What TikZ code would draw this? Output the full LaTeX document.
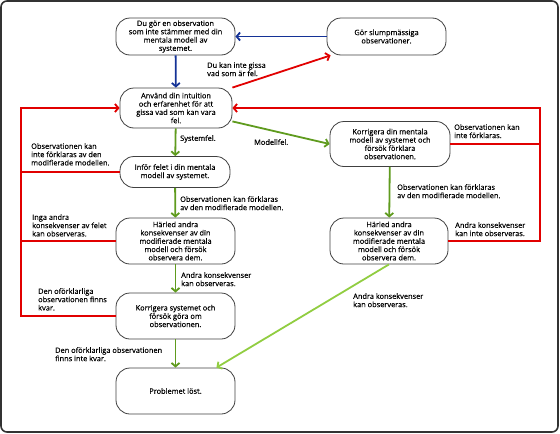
\documentclass[tikz,border=0pt]{standalone}
\usepackage{fontspec}
\setmainfont{Open Sans}[FakeBold=0.35]
\usetikzlibrary{arrows.meta}
\definecolor{myblue}{RGB}{20,50,150}
\definecolor{myred}{RGB}{225,0,0}
\definecolor{mygreen}{RGB}{95,155,30}
\definecolor{mylgreen}{RGB}{145,205,65}
\definecolor{frame}{RGB}{50,50,50}
\begin{document}
\begin{tikzpicture}[x=1pt,y=-1pt,
  txt/.style={font=\fontsize{7.4}{8.3}\selectfont},
  box/.style={txt, draw=black!75, line width=0.8pt, rounded corners=14pt, fill=white, align=center, inner sep=1pt},
  lbl/.style={txt, align=left, anchor=north west, inner sep=0pt},
  conn/.style={line width=1.8pt, -{Straight Barb[length=3.5pt,width=8pt]}},
  blueline/.style={conn, draw=myblue},
  redline/.style={conn, draw=myred},
  greenline/.style={conn, draw=mygreen},
  lgreenline/.style={conn, draw=mylgreen},
  redseg/.style={line width=1.8pt, draw=myred}
]
\useasboundingbox (0,0) rectangle (560,434);
\draw[frame, line width=1.6pt, rounded corners=6pt] (1,1) rectangle (558,432);

\node[box, minimum width=119pt, minimum height=37pt] (A) at (175.5,36.5) {Du gör en observation\\som inte stämmer med din\\mentala modell av\\systemet.};
\node[box, minimum width=119pt, minimum height=37pt] (B) at (386.5,36.5) {Gör slumpmässiga\\observationer.};
\node[box, minimum width=112pt, minimum height=40pt] (C) at (176,108) {Använd din intuition\\och erfarenhet för att\\gissa vad som kan vara\\fel.};
\node[box, minimum width=120pt, minimum height=45pt] (D) at (390,144) {Korrigera din mentala\\modell av systemet och\\försök förklara\\observationen.};
\node[box, minimum width=110pt, minimum height=31pt] (E) at (175,172) {Inför felet i din mentala\\modell av systemet.};
\node[box, minimum width=119pt, minimum height=46pt] (F) at (175.5,241) {Härled andra\\konsekvenser av din\\modifierade mentala\\modell och försök\\observera dem.};
\node[box, minimum width=118pt, minimum height=46pt] (G) at (389,241) {Härled andra\\konsekvenser av din\\modifierade mentala\\modell och försök\\observera dem.};
\node[box, minimum width=119pt, minimum height=46pt] (H) at (175.5,316) {Korrigera systemet och\\försök göra om\\observationen.};
\node[box, minimum width=119pt, minimum height=46pt] (I) at (175.5,391) {Problemet löst.};

\coordinate (leftx) at (21,0);
\coordinate (rightx) at (540,0);

% blue
\draw[blueline] (B) -- (A);
\draw[blueline] (A) -- (C);
% red to B
\draw[redline] (C.north east) -- ([xshift=4pt]B.south west);
% green
\draw[greenline] ([yshift=7pt]C.south east) -- (D.west);
\draw[greenline] (C) -- (E);
\draw[greenline] (E) -- (F);
\draw[greenline] (F) -- (H);
\draw[greenline] (H) -- (I);
\draw[greenline] (D) -- (G);
\draw[lgreenline] (G.south) -- ([xshift=-19pt]I.north east);
% red left loop
\draw[redseg] (E.west) -- (E.west -| leftx);
\draw[redseg] (F.west) -- (F.west -| leftx);
\draw[redline] (H.west) -- (H.west -| leftx) |- (C.west);
% red right loop
\draw[redseg] (D.east) -- (D.east -| rightx);
\draw[redline] (G.east) -- (G.east -| rightx) |- (C.east);

% labels
\node[lbl] (l1) at (207,62) {Du kan inte gissa\\vad som är fel.};
\node[lbl] (l2) at (180,135) {Systemfel.};
\node[lbl] (l3) at (254,139) {Modellfel.};
\node[lbl] (l4) at (31,143) {Observationen kan\\inte förklaras av den\\modifierade modellen.};
\node[lbl] (l5) at (180,196) {Observationen kan förklaras\\av den modifierade modellen.};
\node[lbl] (l6) at (32,214) {Inga andra\\konsekvenser av felet\\kan observeras.};
\node[lbl] (l7) at (181,272) {Andra konsekvenser\\kan observeras.};
\node[lbl] (l8) at (38,288) {Den oförklarliga\\observationen finns\\kvar.};
\node[lbl] (l9) at (55,347) {Den oförklarliga observationen\\finns inte kvar.};
\node[lbl] (l10) at (454,124) {Observationen kan\\inte förklaras.};
\node[lbl] (l11) at (397,184) {Observationen kan förklaras\\av den modifierade modellen.};
\node[lbl] (l12) at (455,222) {Andra konsekvenser\\kan inte observeras.};
\node[lbl] (l13) at (353,293) {Andra konsekvenser\\kan observeras.};
\end{tikzpicture}
\end{document}
